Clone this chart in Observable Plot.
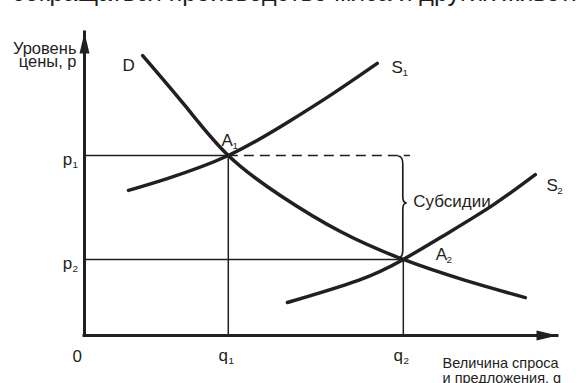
<!DOCTYPE html>
<html><head><meta charset="utf-8">
<script src="https://cdn.jsdelivr.net/npm/d3@7"></script>
<script src="https://cdn.jsdelivr.net/npm/@observablehq/plot@0.6"></script>
<style>
body{margin:0;background:#fff;width:577px;height:383px;overflow:hidden;position:relative;font-family:"Liberation Sans",Arial,sans-serif;}
#top{position:absolute;left:12px;top:-20px;font-size:25px;white-space:nowrap;color:#231f20;line-height:25px;}
#chart{position:absolute;left:0;top:0;}
</style></head><body>
<div id="chart"></div>
<div id="top">сокращаться производство мяса и других животноводческих продуктов</div>
<script>
// Demand curve D
const demandQ = [1.23, 2.14, 3.04, 4.14, 5.41, 6.74, 8.05, 9.32];
const demandP = [9.24, 7.56, 5.94, 4.62, 3.43, 2.51, 1.82, 1.25];
// Supply before subsidy S1
const supply1Q = [0.93, 1.75, 3.04, 4.29, 5.26, 6.19];
const supply1P = [4.79, 5.18, 5.94, 7.03, 7.99, 8.98];
// Supply after subsidy S2
const supply2Q = [4.29, 5.79, 6.74, 7.67, 8.65, 9.53];
const supply2P = [1.09, 1.82, 2.51, 3.37, 4.32, 5.31];
// Equilibria A1, A2
const eqQ = [3.04, 6.74];
const eqP = [5.94, 2.51];
const eqSub = ["1", "2"];
const subsidyLineEnd = 6.89;
const axisMax = 10;

const ink = "#231f20";
const pts = (qs, ps) => qs.map((q, i) => ({q, p: ps[i]}));
const demand = pts(demandQ, demandP);
const supply1 = pts(supply1Q, supply1P);
const supply2 = pts(supply2Q, supply2P);
const eq = eqQ.map((q, i) => ({q, p: eqP[i], sub: eqSub[i]}));

const arrowSymbol = {
  draw(ctx) { ctx.moveTo(0, 0); ctx.lineTo(5, 21); ctx.lineTo(-5, 21); ctx.closePath(); }
};

function subLabel(data, opts, main, sub, dx, dy, size = 17) {
  return [
    Plot.text(data, {...opts, text: () => main, dx, dy, fontSize: size, fill: ink, textAnchor: "middle", lineAnchor: "bottom"}),
    Plot.text(data, {...opts, text: typeof sub === "function" ? sub : () => sub, dx: dx + size * 0.3, dy: dy + 3, fontSize: size * 0.58, fill: ink, textAnchor: "start", lineAnchor: "bottom"})
  ];
}

const brace = (index, {x, y}) => {
  const X = x(eqQ[1]) - 5, top = y(eqP[0]) + 1, bot = y(eqP[1]) - 1, mid = (top + bot) / 2 - 4;
  const p = d3.path();
  p.moveTo(X, top);
  p.quadraticCurveTo(X + 5, top, X + 5, top + 8);
  p.lineTo(X + 5, mid - 6);
  p.quadraticCurveTo(X + 5, mid, X + 9, mid);
  p.quadraticCurveTo(X + 5, mid, X + 5, mid + 6);
  p.lineTo(X + 5, bot - 8);
  p.quadraticCurveTo(X + 5, bot, X, bot);
  return d3.create("svg:path").attr("d", p.toString()).attr("fill", "none")
    .attr("stroke", ink).attr("stroke-width", 1.7).node();
};

const chart = Plot.plot({
  width: 577, height: 383,
  marginLeft: 84, marginRight: 20, marginTop: 32, marginBottom: 48,
  x: {domain: [0, axisMax], axis: null},
  y: {domain: [0, axisMax], axis: null},
  style: {fontFamily: "'Liberation Sans', Arial, sans-serif", background: "#fff", color: ink},
  marks: [
    Plot.ruleY(eq, {y: "p", x1: 0, x2: "q", stroke: ink, strokeWidth: 1.5}),
    Plot.ruleX(eq, {x: "q", y1: 0, y2: "p", stroke: ink, strokeWidth: 1.5}),
    Plot.ruleY([eqP[0]], {x1: eqQ[0], x2: subsidyLineEnd, stroke: ink, strokeWidth: 1.5, strokeDasharray: "10,6"}),
    Plot.ruleX([0], {y1: 0, y2: axisMax, stroke: ink, strokeWidth: 3, strokeLinecap: "square"}),
    Plot.ruleY([0], {x1: 0, x2: axisMax, stroke: ink, strokeWidth: 3, strokeLinecap: "square"}),
    Plot.dot([{q: 0, p: axisMax}], {x: "q", y: "p", symbol: arrowSymbol, fill: ink, stroke: null}),
    Plot.dot([{q: axisMax, p: 0}], {x: "q", y: "p", symbol: arrowSymbol, fill: ink, stroke: null, rotate: 90}),
    Plot.line(demand, {x: "q", y: "p", curve: "natural", stroke: ink, strokeWidth: 3.5}),
    Plot.line(supply1, {x: "q", y: "p", curve: "natural", stroke: ink, strokeWidth: 3.5}),
    Plot.line(supply2, {x: "q", y: "p", curve: "natural", stroke: ink, strokeWidth: 3.5}),
    brace,
    // axis tick labels
    Plot.text(["0"], {frameAnchor: "bottom-left", dx: -12, dy: 26, fontSize: 17, fill: ink, lineAnchor: "bottom"}),
    ...subLabel(eq, {x: "q", frameAnchor: "bottom"}, "q", d => d.sub, -5, 25),
    ...subLabel(eq, {y: "p", frameAnchor: "left"}, "p", d => d.sub, -17, 9.5),
    // curve labels
    ...subLabel([demand[0]], {x: "q", y: "p"}, "D", "", -14, 15),
    ...subLabel([supply1[supply1.length - 1]], {x: "q", y: "p"}, "S", "1", 20, 10),
    ...subLabel([supply2[supply2.length - 1]], {x: "q", y: "p"}, "S", "2", 17, 16),
    ...subLabel([eq[0]], {x: "q", y: "p"}, "A", "1", -1, -10),
    ...subLabel([eq[1]], {x: "q", y: "p"}, "A", "2", 38, 1),
    Plot.text(["Субсидии"], {x: () => eqQ[1], y: () => (eqP[0] + eqP[1]) / 2, dx: 10, dy: 0, fontSize: 17, fill: ink, textAnchor: "start", lineAnchor: "bottom"}),
    // axis titles
    Plot.text(["Уровень\nцены, p"], {frameAnchor: "top-left", dx: -8, dy: 34, fontSize: 16.5, lineHeight: 0.78, textAnchor: "end", lineAnchor: "bottom", fill: ink}),
    Plot.text(["Величина спроса\nи предложения, q"], {frameAnchor: "bottom-right", dx: -115, dy: 47, fontSize: 14.5, lineHeight: 1.03, textAnchor: "start", lineAnchor: "bottom", fill: ink})
  ]
});
document.getElementById("chart").append(chart);
</script>
</body></html>
